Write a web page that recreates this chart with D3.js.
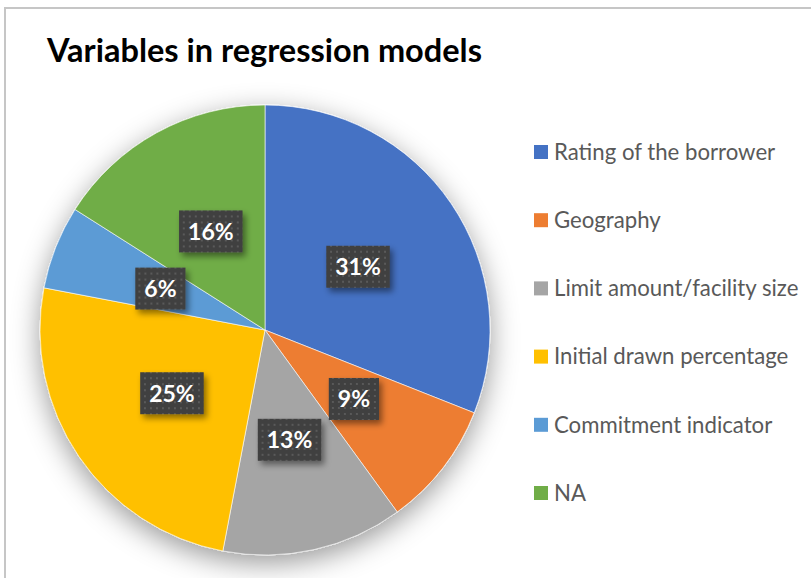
<!DOCTYPE html>
<html><head><meta charset="utf-8">
<script src="https://cdn.jsdelivr.net/npm/d3@7"></script>
<style>html,body{margin:0;padding:0;background:#fff;}svg{display:block;}</style>
</head><body>
<script>
const categories = ["Rating of the borrower","Geography","Limit amount/facility size","Initial drawn percentage","Commitment indicator","NA"];
const values = [31, 9, 13, 25, 6, 16];
const colors = ["#4472C4","#ED7D31","#A5A5A5","#FFC000","#5B9BD5","#70AD47"];
const title = "Variables in regression models";

const W = 811, H = 578;
const svg = d3.select("body").append("svg").attr("width", W).attr("height", H);
const defs = svg.append("defs");

const sh = defs.append("filter").attr("id","pieShadow").attr("x","-30%").attr("y","-30%").attr("width","160%").attr("height","160%");
sh.append("feDropShadow").attr("dx",0).attr("dy",8).attr("stdDeviation",14).attr("flood-color","#000").attr("flood-opacity",0.4);

const bs = defs.append("filter").attr("id","boxShadow").attr("x","-30%").attr("y","-30%").attr("width","170%").attr("height","180%");
bs.append("feDropShadow").attr("dx",3).attr("dy",4).attr("stdDeviation",3).attr("flood-color","#000").attr("flood-opacity",0.45);

const pat = defs.append("pattern").attr("id","dots").attr("patternUnits","userSpaceOnUse").attr("width",6).attr("height",6);
pat.append("rect").attr("width",6).attr("height",6).attr("fill","#404040");
pat.append("rect").attr("x",2).attr("y",2).attr("width",2).attr("height",2).attr("fill","#5a5a5a");

// chart border
svg.append("rect").attr("x",5).attr("y",8).attr("width",W+20).attr("height",H+20)
  .attr("fill","#fff").attr("stroke","#c6c6c6").attr("stroke-width",2);

svg.append("text").attr("x",47).attr("y",62)
  .attr("font-family","Lato, 'Open Sans', sans-serif").attr("font-weight","bold")
  .attr("font-size",32.5).attr("fill","#000").text(title);

const cx = 265, cy = 330, R = 225;
const pie = d3.pie().sort(null).value(d => d)(values);
const arc = d3.arc().innerRadius(0).outerRadius(R);
const g = svg.append("g").attr("transform",`translate(${cx},${cy})`);
g.append("g").attr("filter","url(#pieShadow)").selectAll("path").data(pie).join("path")
  .attr("d", arc).attr("fill",(d,i)=>colors[i]).attr("stroke","#fff").attr("stroke-width",0.6);

const total = d3.sum(values);
const lab = g.append("g").selectAll("g").data(pie).join("g")
  .attr("transform", d => `translate(${arc.centroid(d)})`);
lab.each(function(d){
  const s = d3.select(this);
  const txt = Math.round(d.value/total*100) + "%";
  const t = s.append("text").attr("text-anchor","middle").attr("dy","0.36em")
    .attr("font-family","Lato, 'Open Sans', sans-serif").attr("font-weight","bold")
    .attr("font-size",23).attr("fill","#fff").text(txt);
  const w = t.node().getComputedTextLength() + 18;
  s.insert("rect","text").attr("x",-w/2).attr("y",-21).attr("width",w).attr("height",42)
    .attr("fill","url(#dots)").attr("filter","url(#boxShadow)");
});

const lg = svg.append("g");
const ly = d3.scalePoint().domain(categories).range([152, 493]);
const items = lg.selectAll("g").data(categories).join("g")
  .attr("transform", d => `translate(534,${ly(d)})`);
items.append("rect").attr("x",0).attr("y",-7).attr("width",14).attr("height",14).attr("fill",(d,i)=>colors[i]);
items.append("text").attr("x",20).attr("dy","0.35em")
  .attr("font-family","Lato, 'Open Sans', sans-serif").attr("font-size",22.2).attr("fill","#595959").text(d=>d);
</script>
</body></html>
